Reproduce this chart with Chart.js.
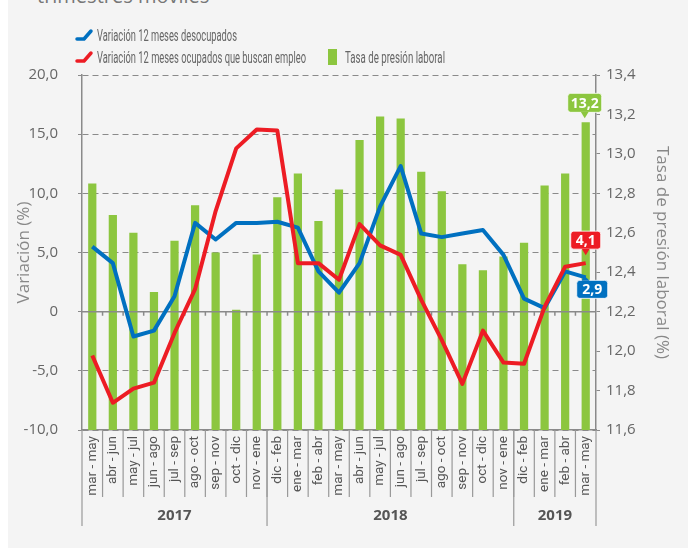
<!DOCTYPE html>
<html lang="es">
<head>
<meta charset="utf-8">
<title>Variación 12 meses y tasa de presión laboral</title>
<script src="https://cdn.jsdelivr.net/npm/chart.js@4.4.1/dist/chart.umd.min.js"></script>
<style>
  html, body { margin: 0; padding: 0; }
  body { width: 688px; height: 548px; overflow: hidden; background: #f4f4f4; position: relative; font-family: 'Open Sans', sans-serif; }
  #franja { position: absolute; left: 0; top: 0; width: 8px; height: 548px; background: #fff; }
  #titulo { position: absolute; left: 37px; top: -14px; font-size: 20px; line-height: 20px; color: #777; white-space: nowrap; }
  #grafico { position: absolute; left: 0; top: 0; }
  .leyenda { position: absolute; font-family: 'Roboto', sans-serif; font-size: 17px; line-height: 20px; color: #666; white-space: nowrap; }
  .leyenda svg { position: absolute; left: 0; top: 2px; }
  .leyenda span { position: absolute; left: 22px; top: 0; transform-origin: left center; }
  .cuadro { position: absolute; width: 9px; height: 16px; background: #8cc63f; }
</style>
</head>
<body>
<div id="franja"></div>
<div id="titulo">trimestres móviles</div>
<canvas id="grafico" width="688" height="548"></canvas>

<div class="leyenda" style="left:75px; top:25px;">
  <svg width="20" height="16"><polyline points="2,12 9,12 16,4" fill="none" stroke="#0070c0" stroke-width="3.5" stroke-linecap="round" stroke-linejoin="round"/></svg>
  <span data-ancho="140">Variación 12 meses desocupados</span>
</div>
<div class="leyenda" style="left:75px; top:47px;">
  <svg width="20" height="16"><polyline points="2,12 9,12 16,4" fill="none" stroke="#ed1c24" stroke-width="3.5" stroke-linecap="round" stroke-linejoin="round"/></svg>
  <span data-ancho="209">Variación 12 meses ocupados que buscan empleo</span>
</div>
<div class="cuadro" style="left:328px; top:49px;"></div>
<div class="leyenda" style="left:323px; top:47px;"><span data-ancho="100">Tasa de presión laboral</span></div>

<script>
// Trimestres móviles
var categorias = ['mar - may', 'abr - jun', 'may - jul', 'jun - ago', 'jul - sep', 'ago - oct', 'sep - nov', 'oct - dic', 'nov - ene',
                  'dic - feb', 'ene - mar', 'feb - abr', 'mar - may', 'abr - jun', 'may - jul', 'jun - ago', 'jul - sep', 'ago - oct', 'sep - nov', 'oct - dic', 'nov - ene',
                  'dic - feb', 'ene - mar', 'feb - abr', 'mar - may'];

var anios = ['2017', '2018', '2019'];
var trimestresPorAnio = [9, 12, 4];

// Variación 12 meses (%)
var desocupados = [5.5, 4.1, -2.1, -1.6, 1.3, 7.5, 6.1, 7.5, 7.5, 7.6, 7.1, 3.4, 1.6, 4.1, 8.9, 12.3, 6.6, 6.3, 6.6, 6.9, 4.8, 1.1, 0.3, 3.4, 2.9];
var ocupadosBuscan = [-3.7, -7.7, -6.5, -6.0, -1.8, 1.9, 8.5, 13.8, 15.4, 15.3, 4.1, 4.1, 2.7, 7.4, 5.6, 4.8, 1.0, -2.4, -6.1, -1.6, -4.3, -4.4, 0.4, 3.8, 4.1];

// Tasa de presión laboral (%)
var tasaPresion = [12.85, 12.69, 12.60, 12.30, 12.56, 12.74, 12.50, 12.21, 12.49, 12.78, 12.90, 12.66, 12.82, 13.07, 13.19, 13.18, 12.91, 12.81, 12.44, 12.41, 12.48, 12.55, 12.84, 12.90, 13.16];

var AZUL = '#0070c0';
var ROJO = '#ed1c24';
var VERDE = '#8cc63f';
var GRIS = '#8a8a8a';

// leyenda estrecha: ajusta el ancho del texto
document.querySelectorAll('.leyenda span').forEach(function(s) {
    var w = s.getBoundingClientRect().width;
    s.style.transform = 'scaleX(' + (Number(s.dataset.ancho) / w) + ')';
});

function coma(v) {
    return v.toFixed(1).replace('.', ',');
}

// dibuja una etiqueta con flecha
function globo(ctx, left, top, w, h, color, texto, base1, base2, punta) {
    ctx.save();
    ctx.fillStyle = color;
    ctx.strokeStyle = 'rgba(255,255,255,0.8)';
    ctx.lineWidth = 1;
    ctx.beginPath();
    ctx.roundRect(left, top, w, h, 3);
    ctx.fill();
    ctx.stroke();
    ctx.beginPath();
    ctx.moveTo(base1[0], base1[1]);
    ctx.lineTo(punta[0], punta[1]);
    ctx.lineTo(base2[0], base2[1]);
    ctx.closePath();
    ctx.fill();
    ctx.fillStyle = '#fff';
    ctx.font = 'bold 14px "Open Sans", sans-serif';
    ctx.textAlign = 'center';
    ctx.textBaseline = 'middle';
    ctx.fillText(texto, left + w / 2, top + h / 2 + 1);
    ctx.restore();
}

var decoraciones = {
    id: 'decoraciones',
    afterDatasetDraw: function(chart, args) {
        if (args.index !== 0) return;
        // línea del cero con sus marcas
        var ctx = chart.ctx, ca = chart.chartArea, x = chart.scales.x, y = chart.scales.y;
        var y0 = y.getPixelForValue(0);
        ctx.save();
        ctx.strokeStyle = GRIS;
        ctx.lineWidth = 1.5;
        ctx.beginPath();
        ctx.moveTo(ca.left, y0);
        ctx.lineTo(ca.right, y0);
        for (var i = 1; i < categorias.length; i++) {
            var bx = (x.getPixelForValue(i - 1) + x.getPixelForValue(i)) / 2;
            ctx.moveTo(bx, y0);
            ctx.lineTo(bx, y0 + 4);
        }
        ctx.stroke();
        ctx.restore();
    },
    afterDraw: function(chart) {
        var ctx = chart.ctx, ca = chart.chartArea;
        var x = chart.scales.x, y = chart.scales.y, y2 = chart.scales.y2;
        var paso = x.getPixelForValue(1) - x.getPixelForValue(0);

        // separadores de categorías
        ctx.save();
        ctx.strokeStyle = '#999';
        ctx.lineWidth = 1.2;
        ctx.beginPath();
        for (var i = 1; i < categorias.length; i++) {
            var bx = x.getPixelForValue(i) - paso / 2;
            ctx.moveTo(bx, ca.bottom);
            ctx.lineTo(bx, ca.bottom + 67);
        }
        ctx.stroke();

        // grupos por año
        var inicio = 0;
        ctx.beginPath();
        ctx.moveTo(ca.left, ca.bottom);
        ctx.lineTo(ca.left, ca.bottom + 96);
        ctx.font = 'bold 15px "Open Sans", sans-serif';
        ctx.fillStyle = '#555';
        ctx.textAlign = 'center';
        ctx.textBaseline = 'middle';
        for (var a = 0; a < anios.length; a++) {
            var fin = inicio + trimestresPorAnio[a] - 1;
            var xi = x.getPixelForValue(inicio) - paso / 2;
            var xf = x.getPixelForValue(fin) + paso / 2;
            ctx.moveTo(xf, ca.bottom);
            ctx.lineTo(xf, ca.bottom + 96);
            ctx.fillText(anios[a], (xi + xf) / 2, ca.bottom + 86);
            inicio = fin + 1;
        }
        ctx.stroke();
        ctx.restore();

        // etiquetas del último dato
        var n = categorias.length - 1;
        var px = x.getPixelForValue(n);

        var bTop = y2.getPixelForValue(tasaPresion[n]);
        globo(ctx, px - 18, bTop - 29, 34, 19, VERDE, coma(tasaPresion[n]),
              [px - 5, bTop - 10.5], [px + 3, bTop - 10.5], [px - 1, bTop - 4]);

        var rY = y.getPixelForValue(ocupadosBuscan[n]);
        globo(ctx, px - 15, rY - 32, 30, 18, ROJO, coma(ocupadosBuscan[n]),
              [px - 4, rY - 14.5], [px + 4, rY - 14.5], [px, rY - 8]);

        var aY = y.getPixelForValue(desocupados[n]);
        globo(ctx, px - 9, aY + 3, 31, 18, AZUL, coma(desocupados[n]),
              [px - 4, aY + 3.5], [px + 4, aY + 3.5], [px - 2, aY - 2]);
    }
};

var ctx = document.getElementById('grafico').getContext('2d');
var grafico = new Chart(ctx, {
    type: 'bar',
    data: {
        labels: categorias,
        datasets: [{
            type: 'bar',
            label: 'Tasa de presión laboral',
            data: tasaPresion,
            backgroundColor: VERDE,
            yAxisID: 'y2',
            barPercentage: 0.4,
            categoryPercentage: 1,
            order: 3
        }, {
            type: 'line',
            label: 'Variación 12 meses desocupados',
            data: desocupados,
            borderColor: AZUL,
            borderWidth: 4,
            pointRadius: 0,
            tension: 0,
            borderJoinStyle: 'round',
            fill: false,
            yAxisID: 'y',
            order: 2
        }, {
            type: 'line',
            label: 'Variación 12 meses ocupados que buscan empleo',
            data: ocupadosBuscan,
            borderColor: ROJO,
            borderWidth: 4,
            pointRadius: 0,
            tension: 0,
            borderJoinStyle: 'round',
            fill: false,
            yAxisID: 'y',
            order: 1
        }]
    },
    options: {
        responsive: false,
        animation: false,
        layout: { padding: { top: 75, left: 0, right: 0, bottom: 0 } },
        plugins: {
            legend: { display: false },
            tooltip: { enabled: false }
        },
        scales: {
            x: {
                grid: { display: false, drawTicks: false },
                border: { display: true, color: GRIS, width: 1.5 },
                ticks: {
                    autoSkip: false,
                    minRotation: 90,
                    maxRotation: 90,
                    padding: 6,
                    color: '#555',
                    font: { family: "'Roboto', sans-serif", size: 13.5 }
                },
                afterFit: function(scale) { scale.height = 118; }
            },
            y: {
                position: 'left',
                min: -10,
                max: 20,
                ticks: {
                    stepSize: 5,
                    padding: 20,
                    color: '#666',
                    font: { family: "'Open Sans', sans-serif", size: 15 },
                    callback: function(v) { return v === 0 ? '0' : coma(v); }
                },
                grid: { color: GRIS, lineWidth: 1, tickLength: 4, tickColor: GRIS },
                border: { display: true, color: GRIS, width: 1.5, dash: [6, 4] },
                title: {
                    display: true,
                    text: 'Variación (%)',
                    color: '#888',
                    font: { family: "'Open Sans', sans-serif", size: 17 },
                    padding: { top: 14, bottom: 0 }
                },
                afterFit: function(scale) { scale.width = 82; }
            },
            y2: {
                position: 'right',
                min: 11.6,
                max: 13.4,
                ticks: {
                    stepSize: 0.2,
                    padding: 6,
                    color: '#666',
                    font: { family: "'Open Sans', sans-serif", size: 15 },
                    callback: function(v) { return coma(v); }
                },
                grid: { drawOnChartArea: false, tickLength: 4, tickColor: GRIS },
                border: { display: true, color: GRIS, width: 1.5 },
                title: {
                    display: true,
                    text: 'Tasa de presión laboral (%)',
                    color: '#888',
                    font: { family: "'Open Sans', sans-serif", size: 17 },
                    padding: { top: 16, bottom: 0 }
                },
                afterFit: function(scale) { scale.width = 92; }
            }
        }
    },
    plugins: [decoraciones]
});
</script>
</body>
</html>
